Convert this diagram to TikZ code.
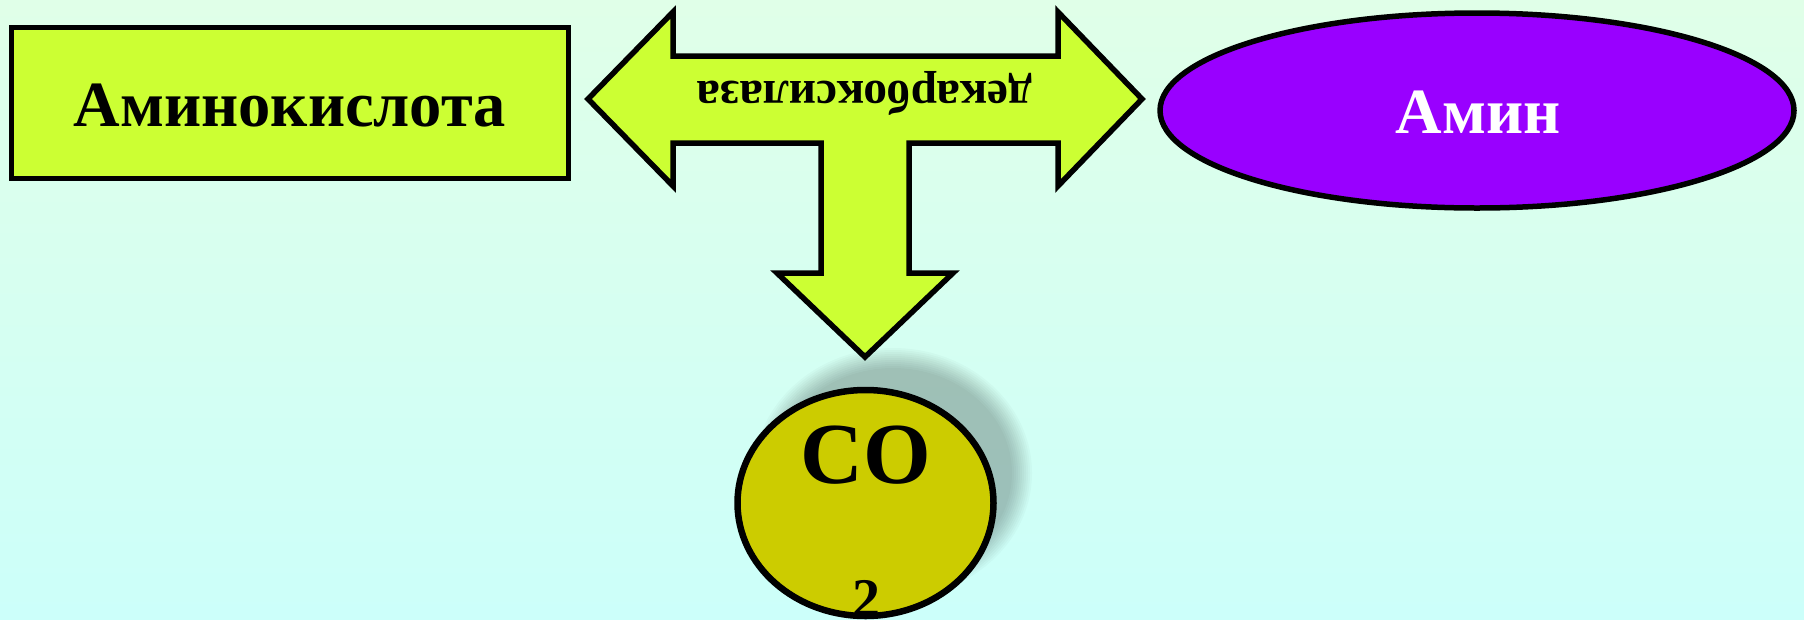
\documentclass[tikz,border=0pt]{standalone}
\usepackage{fontspec}
\setmainfont{Liberation Serif}
\usetikzlibrary{shapes.geometric}
\definecolor{bgtop}{HTML}{E0FFE8}
\definecolor{bgbot}{HTML}{CCFFFA}
\definecolor{limefill}{HTML}{CCFF33}
\definecolor{violetfill}{HTML}{9900FF}
\definecolor{olivefill}{HTML}{CCCC00}
\tikzset{
  outline/.style={draw=black, line width=5.5pt, line join=miter},
  boxshape/.style={outline, rectangle, fill=limefill, inner sep=0pt},
  ovalshape/.style={outline, ellipse, inner sep=0pt},
  bigtext/.style={font=\bfseries\fontsize{64.5}{70}\selectfont, inner sep=0pt},
}
\begin{document}
\begin{tikzpicture}[x=1pt,y=-1pt]
\useasboundingbox (0,0) rectangle (1804,619);
\clip (0,0) rectangle (1804,619);
\shade[top color=bgtop, bottom color=bgbot] (0,0) rectangle (1804,619);

% left box
\node[boxshape, minimum width=557pt, minimum height=151pt] (acid) at (290,103) {};
\node[bigtext, anchor=base] (acidtxt) at (290,126.5) {Аминокислота};

% right ellipse
\node[ovalshape, fill=violetfill, minimum width=634pt, minimum height=195pt] (amin) at (1477,110.5) {};
\node[bigtext, text=white, anchor=base] (amintxt) at (1478,133.5) {Амин};

% T-shaped block arrow
\draw[outline, fill=limefill]
  (588,99) -- (673,12) -- (673,56) -- (1058,56) -- (1058,12) -- (1142,99)
  -- (1058,186) -- (1058,143) -- (909,143) -- (909,273) -- (953,273)
  -- (865,357) -- (777,273) -- (821,273) -- (821,143) -- (673,143)
  -- (673,186) -- cycle;
\node[font=\bfseries\fontsize{47.3}{50}\selectfont, inner sep=0pt, rotate=180, anchor=base] (enz) at (864.5,81.7) {декарбоксилаза};

% blurred shadow of CO2 ellipse
\foreach \d in {-10,-8,...,10}{
  \fill[black, fill opacity=0.022] (893,473) ellipse [x radius={129+\d}, y radius={115+\d}];
}

% CO2 ellipse
\node[ovalshape, line width=6.5pt, fill=olivefill, minimum width=256pt, minimum height=226pt] (co2) at (865.5,503) {};
\node[font=\bfseries\fontsize{87}{90}\selectfont, inner sep=0pt, anchor=base] (cotxt) at (866,483) {CO};
\node[font=\bfseries\fontsize{56}{60}\selectfont, inner sep=0pt, anchor=base] (twotxt) at (866,617) {2};
\end{tikzpicture}
\end{document}
